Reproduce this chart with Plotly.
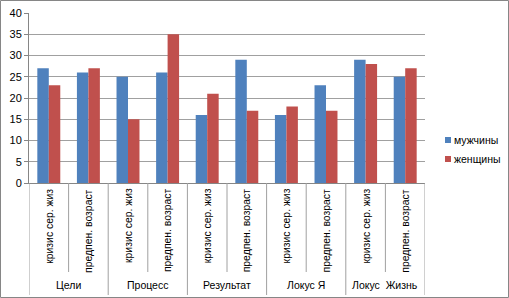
import plotly.graph_objects as go

groups = ["Цели", "Процесс", "Результат", "Локус Я", "Локус  Жизнь"]
subcats = ["кризис сер. жиз", "предпен. возраст"]
men = [27, 26, 25, 26, 16, 29, 16, 23, 29, 25]
women = [23, 27, 15, 35, 21, 17, 18, 17, 28, 27]
yticks = [0, 5, 10, 15, 20, 25, 30, 35, 40]
series_names = ["мужчины", "женщины"]
series_colors = ["#4F81BD", "#C0504D"]

n = len(men)
xs = list(range(n))

fig = go.Figure()
fig.add_trace(go.Bar(x=xs, y=men, name=series_names[0], marker=dict(color=series_colors[0], line=dict(width=0))))
fig.add_trace(go.Bar(x=xs, y=women, name=series_names[1], marker=dict(color=series_colors[1], line=dict(width=0))))

L, R, T, B = 29, 84, 13, 115
W, H = 509, 298
pw = W - L - R
ph = H - T - B

def px_x(p):
    return (p - L) / pw

def px_y(p):
    return (H - B - p) / ph

FONT = "Liberation Sans"
shapes = []
annotations = []
# inner labels and separators
for i in xs:
    annotations.append(dict(x=i, y=px_y(186.5), xref="x", yref="paper", text=subcats[i % 2],
                            textangle=-90, showarrow=False, xanchor="center", yanchor="top",
                            font=dict(size=10.4, color="#000", family=FONT)))
for k in range(n + 1):
    xb = k - 0.5
    is_group = (k % 2 == 0)
    shapes.append(dict(type="line", xref="x", yref="paper", x0=xb, x1=xb,
                       y0=0, y1=px_y(295 if is_group else 272),
                       line=dict(color="#a0a0a0", width=1)))
for g, name in enumerate(groups):
    annotations.append(dict(x=2 * g + 0.5, y=px_y(285), xref="x", yref="paper", text=name,
                            showarrow=False, xanchor="center", yanchor="middle",
                            font=dict(size=10.5, color="#000", family=FONT)))
# manual legend
for j, (nm, col) in enumerate(zip(series_names, series_colors)):
    cy = 140 + j * 19
    shapes.append(dict(type="rect", xref="paper", yref="paper",
                       x0=px_x(445), x1=px_x(451), y0=px_y(cy + 3), y1=px_y(cy - 3),
                       fillcolor=col, line=dict(width=0)))
    annotations.append(dict(x=px_x(452), y=px_y(cy), xref="paper", yref="paper", text=nm,
                            showarrow=False, xanchor="left", yanchor="middle",
                            font=dict(size=10.5, color="#000", family=FONT)))
# outer border
shapes.append(dict(type="rect", xref="paper", yref="paper", x0=px_x(0.5), x1=px_x(508.5),
                   y0=px_y(297.5), y1=px_y(0.5), line=dict(color="#868686", width=1)))

fig.update_layout(
    width=W, height=H,
    margin=dict(l=L, r=R, t=T, b=B, autoexpand=False),
    paper_bgcolor="white", plot_bgcolor="white",
    barmode="group", bargap=0.42, bargroupgap=0,
    showlegend=False,
    xaxis=dict(range=[-0.5, n - 0.5], showticklabels=False, showgrid=False, zeroline=False,
               showline=True, linecolor="#868686", linewidth=1, ticks=""),
    yaxis=dict(range=[0, 40], tickvals=yticks, showgrid=True, gridcolor="#a0a0a0", gridwidth=1,
               zeroline=False, showline=True, linecolor="#868686", linewidth=1,
               ticks="outside", ticklen=4, tickcolor="#868686",
               tickfont=dict(size=11, color="#000", family=FONT)),
    shapes=shapes, annotations=annotations,
)

fig.write_html("out.html", config={"displayModeBar": False},
               post_script="document.body.style.margin='0';document.body.style.overflow='hidden';")
